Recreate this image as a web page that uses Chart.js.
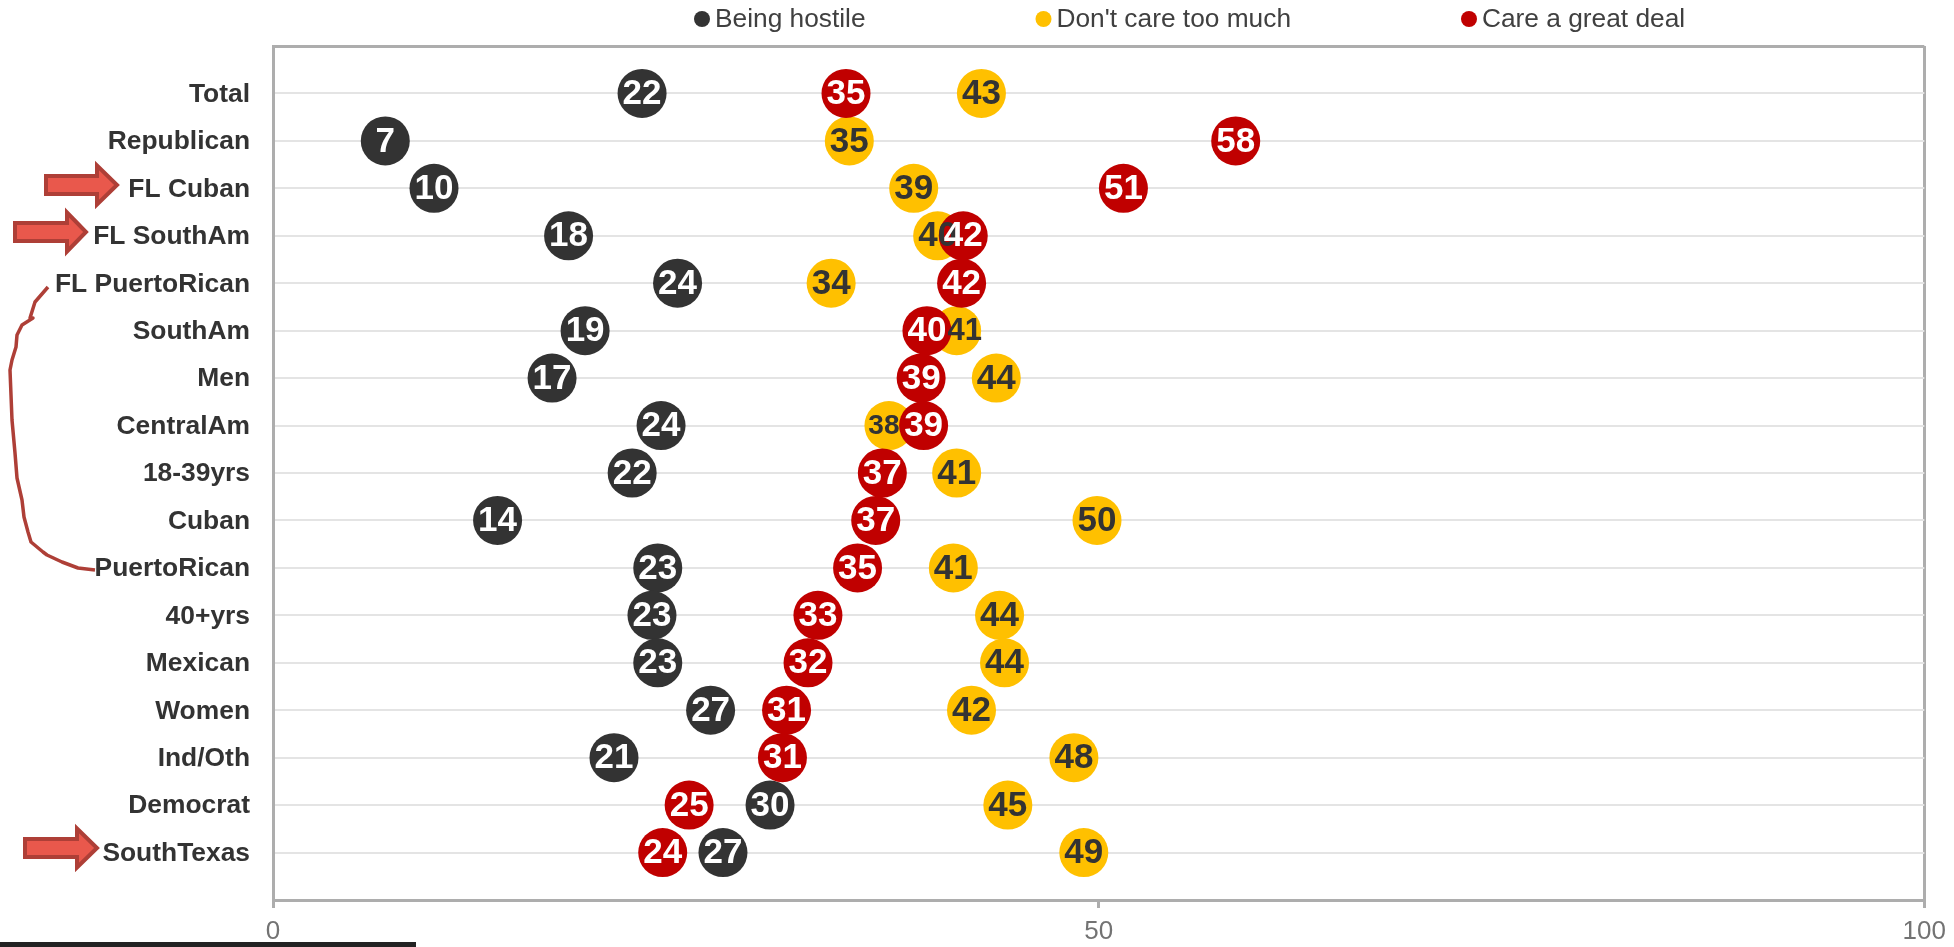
<!DOCTYPE html>
<html>
<head>
<meta charset="utf-8">
<title>Dot plot</title>
<script src="https://cdn.jsdelivr.net/npm/chart.js@4/dist/chart.umd.min.js"></script>
<style>
body { margin: 0; background: #fff; }
canvas { display: block; }
</style>
</head>
<body>
<canvas id="dotChart" width="1954" height="947"></canvas>
<script>
const rowNames = ["Total", "Republican", "FL Cuban", "FL SouthAm", "FL PuertoRican", "SouthAm", "Men", "CentralAm",
    "18-39yrs", "Cuban", "PuertoRican", "40+yrs", "Mexican", "Women", "Ind/Oth", "Democrat", "SouthTexas"];
const rowNumbers = [1, 2, 3, 4, 5, 6, 7, 8, 9, 10, 11, 12, 13, 14, 15, 16, 17];

// dot positions, printed labels kept apart
const hostile = [22.35, 6.8, 9.75, 17.9, 24.5, 18.9, 16.9, 23.5, 21.75, 13.6, 23.3, 22.95, 23.3, 26.5, 20.65, 30.1, 27.25];
const dontCare = [42.9, 34.9, 38.8, 40.25, 33.8, 41.4, 43.8, 37.3, 41.4, 49.9, 41.2, 44, 44.3, 42.3, 48.5, 44.5, 49.1];
const careGreat = [34.7, 58.3, 51.5, 41.8, 41.7, 39.6, 39.25, 39.4, 36.9, 36.5, 35.4, 33, 32.4, 31.1, 30.85, 25.2, 23.6];

const hostileLabels = [22, 7, 10, 18, 24, 19, 17, 24, 22, 14, 23, 23, 23, 27, 21, 30, 27];
const dontCareLabels = [43, 35, 39, 40, 34, 41, 44, 38, 41, 50, 41, 44, 44, 42, 48, 45, 49];
const careGreatLabels = [35, 58, 51, 42, 42, 40, 39, 39, 37, 37, 35, 33, 32, 31, 31, 25, 24];

const FONT = '"Liberation Sans", Arial, sans-serif';

function points(values) {
    return values.map((v, i) => ({ x: v, y: rowNumbers[i] }));
}

function arrow(ctx, x0, x1, headX, y, shaft, head) {
    ctx.beginPath();
    ctx.moveTo(x0, y - shaft);
    ctx.lineTo(headX, y - shaft);
    ctx.lineTo(headX, y - head);
    ctx.lineTo(x1, y);
    ctx.lineTo(headX, y + head);
    ctx.lineTo(headX, y + shaft);
    ctx.lineTo(x0, y + shaft);
    ctx.closePath();
    ctx.fillStyle = "#e9584c";
    ctx.strokeStyle = "#ae3f37";
    ctx.lineWidth = 4;
    ctx.fill();
    ctx.stroke();
}

const bracket = [[48, 287], [35, 302], [30, 318], [33, 318], [22, 325], [17, 335], [16, 347], [12, 360], [10, 370],
    [12, 420], [15, 453], [17, 478], [22, 500], [24, 517], [28, 532], [31, 542], [43, 552], [47, 555],
    [62, 562], [78, 568], [95, 570]];

function valueLabel(ctx, ds, pt, i, size, shift) {
    ctx.font = "bold " + size + "px " + FONT;
    ctx.fillStyle = ds.labelColor;
    ctx.fillText(ds.labels[i], pt.x + shift, pt.y + 1);
}

// chart decorations: value labels, legend row, hand drawn arrows and bracket
const decorations = {
    id: "decorations",
    afterDatasetsDraw(chart) {
        const ctx = chart.ctx;
        ctx.save();
        ctx.textAlign = "center";
        ctx.textBaseline = "middle";
        chart.data.datasets.forEach((ds, d) => {
            chart.getDatasetMeta(d).data.forEach((pt, i) => {
                if (d === 1 && i === 5) return;
                if (d === 1 && i === 7) valueLabel(ctx, ds, pt, i, 28, -5);
                else valueLabel(ctx, ds, pt, i, 35, 0);
            });
        });
        // the yellow 41 sits over the red 40 in the SouthAm row
        valueLabel(ctx, chart.data.datasets[1], chart.getDatasetMeta(1).data[5], 5, 31, 8);

        ctx.font = "26.3px " + FONT;
        ctx.textAlign = "left";
        const legendX = [702, 1043.5, 1469];
        chart.data.datasets.forEach((ds, d) => {
            ctx.fillStyle = ds.backgroundColor;
            ctx.beginPath();
            ctx.arc(legendX[d], 19, 8, 0, Math.PI * 2);
            ctx.fill();
            ctx.fillStyle = "#404040";
            ctx.fillText(ds.label, legendX[d] + 13, 20);
        });

        arrow(ctx, 46, 117, 97, 185, 9, 19.5);
        arrow(ctx, 15, 86, 67, 232, 9, 19.5);
        arrow(ctx, 25, 97, 77, 848, 9, 19.5);

        ctx.strokeStyle = "#ae3f37";
        ctx.lineWidth = 3.5;
        ctx.lineJoin = "round";
        ctx.beginPath();
        bracket.forEach((p, i) => i ? ctx.lineTo(p[0], p[1]) : ctx.moveTo(p[0], p[1]));
        ctx.stroke();

        ctx.fillStyle = "#222";
        ctx.fillRect(0, 942, 416, 5);
        ctx.restore();
    }
};

new Chart(document.getElementById("dotChart").getContext("2d"), {
    type: "scatter",
    data: {
        datasets: [
            { label: "Being hostile", data: points(hostile), labels: hostileLabels, labelColor: "#fff",
              backgroundColor: "#333333", order: 3 },
            { label: "Don't care too much", data: points(dontCare), labels: dontCareLabels, labelColor: "#333",
              backgroundColor: "#ffc000", order: 2 },
            { label: "Care a great deal", data: points(careGreat), labels: careGreatLabels, labelColor: "#fff",
              backgroundColor: "#c00000", order: 1 }
        ]
    },
    options: {
        responsive: false,
        animation: false,
        layout: { padding: { top: 46, right: 29, left: 0, bottom: 0 } },
        elements: { point: { radius: 24.5, borderWidth: 0, hoverRadius: 24.5 } },
        plugins: { legend: { display: false }, tooltip: { enabled: false } },
        scales: {
            x: {
                type: "linear",
                min: 0,
                max: 100,
                afterFit: (scale) => { scale.height = 47; },
                ticks: { stepSize: 50, color: "#737373", padding: 8, maxRotation: 0, font: { size: 26, family: FONT } },
                border: { color: "#adadad", width: 3 },
                grid: {
                    color: (c) => c.tick && c.tick.value === 100 ? "#adadad" : "rgba(0,0,0,0)",
                    lineWidth: 3,
                    tickColor: "#adadad",
                    tickWidth: 3,
                    tickLength: 8
                }
            },
            y: {
                type: "linear",
                reverse: true,
                min: 0,
                max: 18,
                afterFit: (scale) => { scale.width = 273; },
                ticks: {
                    stepSize: 1,
                    autoSkip: false,
                    padding: 23,
                    labelOffset: 1,
                    color: "#333",
                    font: { size: 26.4, weight: "bold", family: FONT },
                    callback: (v) => rowNames[v - 1] || ""
                },
                border: { color: "#adadad", width: 3 },
                grid: {
                    color: (c) => c.tick && c.tick.value === 0 ? "#adadad" : "#e4e4e4",
                    lineWidth: (c) => c.tick && c.tick.value === 0 ? 3 : 2,
                    drawTicks: false
                }
            }
        }
    },
    plugins: [decorations]
});
</script>
</body>
</html>
